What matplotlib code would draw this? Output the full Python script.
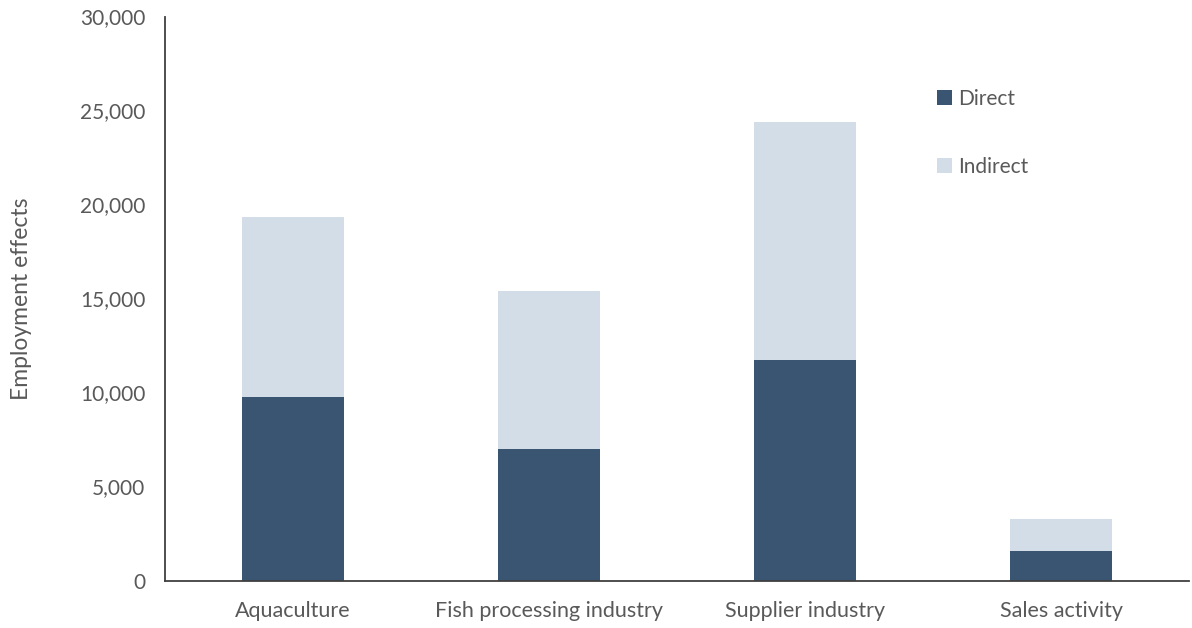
import matplotlib.pyplot as plt
from matplotlib.ticker import FuncFormatter

plt.rcParams['font.family'] = ['Lato', 'DejaVu Sans']

categories = ["Aquaculture", "Fish processing industry", "Supplier industry", "Sales activity"]
direct = [9760, 7000, 11710, 1560]
indirect = [9580, 8400, 12690, 1720]

dark = "#3A5572"
light = "#D3DDE8"
text_color = "#595959"

fig = plt.figure(figsize=(11.92, 6.28), dpi=100)
ax = fig.add_axes([0.1384, 0.0756, 0.8591, 0.8981])

x = range(len(categories))
ax.bar(x, direct, width=0.40, color=dark, label="Direct")
ax.bar(x, indirect, width=0.40, bottom=direct, color=light, label="Indirect")

ax.set_xlim(-0.5, len(categories) - 0.5)
ax.set_ylim(0, 30000)
ax.set_yticks(range(0, 30001, 5000))
ax.yaxis.set_major_formatter(FuncFormatter(lambda v, p: f"{int(v):,}"))
ax.set_xticks(list(x))
ax.set_xticklabels(categories)

ax.tick_params(axis='both', length=0, colors=text_color)
ax.tick_params(axis='y', pad=14, labelsize=15)
ax.tick_params(axis='x', pad=15, labelsize=15.5)

for side in ["top", "right"]:
    ax.spines[side].set_visible(False)
ax.spines["left"].set_color("#404040")
ax.spines["bottom"].set_color("#404040")
ax.spines["left"].set_linewidth(1.3)
ax.spines["bottom"].set_linewidth(1.3)

ax.set_ylabel("Employment effects", fontsize=16.5, color=text_color, labelpad=35)

leg = ax.legend(loc="upper left", bbox_to_anchor=(0.736, 0.905), frameon=False,
                fontsize=15, labelspacing=2.3, handlelength=0.7, handleheight=0.7,
                handletextpad=0.3)
for t in leg.get_texts():
    t.set_color(text_color)

fig.savefig("out.png", dpi=100)
